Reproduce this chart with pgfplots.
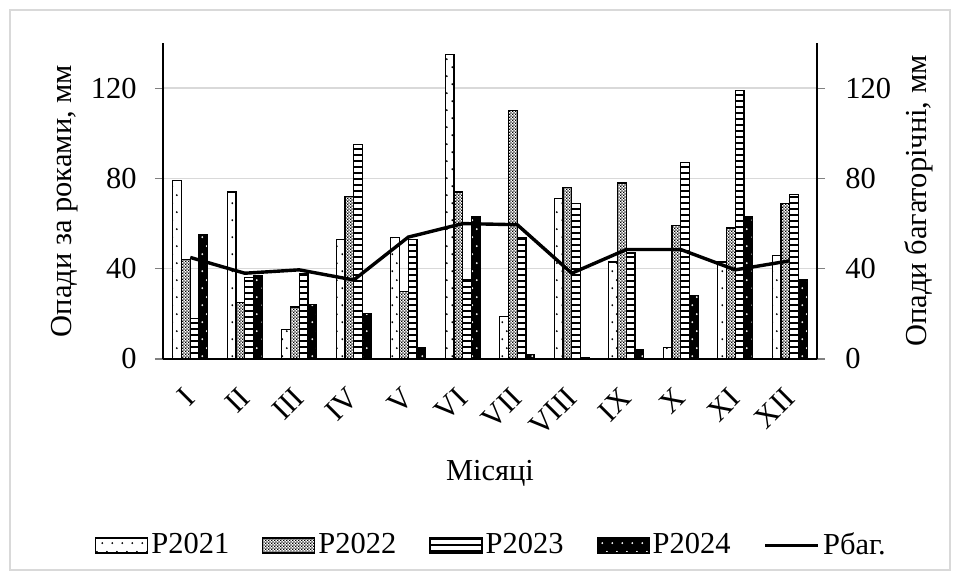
\documentclass[border=0pt]{standalone}
\usepackage{pgfplots}
\pgfplotsset{compat=1.18}
\usetikzlibrary{patterns.meta}
\usepackage{fontspec}
\setmainfont{Liberation Serif}

\definecolor{gridgray}{RGB}{217,217,217}

% sparse dots (P2021 black on white, P2024 white on black)
\tikzdeclarepattern{
  name=sparsedots, type=uncolored,
  bounding box={(0,0) and (5bp,8.5bp)},
  tile size={(5bp,8.5bp)},
  code={\fill (1.25bp,2bp) circle (0.55bp); \fill (3.75bp,6.25bp) circle (0.55bp);}
}
% fine checker (P2022)
\tikzdeclarepattern{
  name=checker, type=uncolored,
  bounding box={(0,0) and (1.6bp,1.6bp)},
  tile size={(1.6bp,1.6bp)},
  code={\fill (0,0) rectangle (0.8bp,0.8bp); \fill (0.8bp,0.8bp) rectangle (1.6bp,1.6bp);}
}

\pgfplotsset{
  bl/.style={legend image code/.code={\draw[##1] (0bp,-3.75bp) rectangle (26bp,3.75bp);}},
  ll/.style={legend image code/.code={\draw[##1] (0bp,0bp) -- (26.5bp,0bp);}},
}

\begin{document}
\fontsize{15.3}{18}\selectfont\rmfamily
\begin{tikzpicture}
\path[use as bounding box] (-81.5bp,-111bp) rectangle (399bp,179.5bp);
\draw[gridgray, line width=0.75bp] (-76.5bp,-105.5bp) rectangle (393.5bp,174.5bp);

\begin{axis}[
  at={(0,0)}, anchor=south west,
  scale only axis, width=327bp, height=158bp,
  xmin=-0.5, xmax=11.5, ymin=0, ymax=140,
  axis x line*=bottom, axis y line*=left,
  axis line style={-, line width=0.6bp},
  ybar=0pt, bar width=4.4bp,
  xtick={0,...,11},
  xticklabels={I,II,III,IV,V,VI,VII,VIII,IX,X,XI,XII},
  x tick style={draw=none},
  xticklabel style={yshift=-13bp, rotate=45, anchor=east, inner sep=0pt},
  ytick={0,40,80,120},
  tick align=outside, major tick length=4bp,
  y tick style={line width=0.6bp},
  yticklabel style={anchor=east, inner sep=0pt, xshift=-9bp},
  /pgf/number format/assume math mode=true,
  ymajorgrids, grid style={gridgray, line width=0.75bp},
  xlabel={Місяці},
  xlabel style={at={(axis description cs:0.5,-0.386)}, anchor=base},
  ylabel={Опади за роками, мм},
  ylabel style={at={(axis description cs:-0.151,0.5)}, anchor=center},
  legend columns=5,
  legend style={draw=none, fill=none, at={(0.503,-0.59)}, anchor=center,
    column sep=0pt,
    /tikz/every even column/.append style={column sep=15bp},
    nodes={inner xsep=1.5bp}},
]
\addplot[bl, draw=black, line width=0.6bp, preaction={fill=white}, pattern=sparsedots, pattern color=black]
  coordinates {(0,79) (1,74) (2,13) (3,53) (4,54) (5,135) (6,19) (7,71) (8,43) (9,5) (10,43) (11,46)};
\addplot[bl, draw=black, line width=0.6bp, preaction={fill=white}, pattern=checker, pattern color=black]
  coordinates {(0,44) (1,25) (2,23) (3,72) (4,30) (5,74) (6,110) (7,76) (8,78) (9,59) (10,58) (11,69)};
\addplot[bl, draw=black, line width=0.6bp, preaction={fill=white}, pattern={Lines[distance=3bp, line width=0.85bp, angle=0]}, pattern color=black]
  coordinates {(0,18) (1,36) (2,38) (3,95) (4,53) (5,35) (6,54) (7,69) (8,47) (9,87) (10,119) (11,73)};
\addplot[bl, draw=black, line width=0.6bp, preaction={fill=black}, pattern=sparsedots, pattern color=white]
  coordinates {(0,55) (1,37) (2,24) (3,20) (4,5) (5,63) (6,2) (7,0.5) (8,4) (9,28) (10,63) (11,35)};
\addlegendimage{ll, black, line width=1.7bp}
\legend{Р2021,Р2022,Р2023,Р2024,Рбаг.}
\end{axis}

\begin{axis}[
  at={(0,0)}, anchor=south west,
  scale only axis, width=327bp, height=158bp,
  xmin=-0.5, xmax=11.5, ymin=0, ymax=140,
  axis x line=none, axis y line*=right,
  axis line style={-, line width=0.6bp},
  ytick={0,40,80,120},
  tick align=outside, major tick length=4bp,
  y tick style={line width=0.6bp},
  yticklabel style={anchor=west, inner sep=0pt, xshift=10bp},
  /pgf/number format/assume math mode=true,
  ylabel={Опади багаторічні, мм},
  ylabel style={at={(axis description cs:1.155,0.5)}, anchor=center},
]
\addplot[black, line width=1.7bp, mark=none]
  coordinates {(0,45) (1,38) (2,39.5) (3,35) (4,54) (5,60) (6,59.5) (7,38) (8,48.5) (9,48.5) (10,39.5) (11,43.5)};
\end{axis}
\end{tikzpicture}
\end{document}
